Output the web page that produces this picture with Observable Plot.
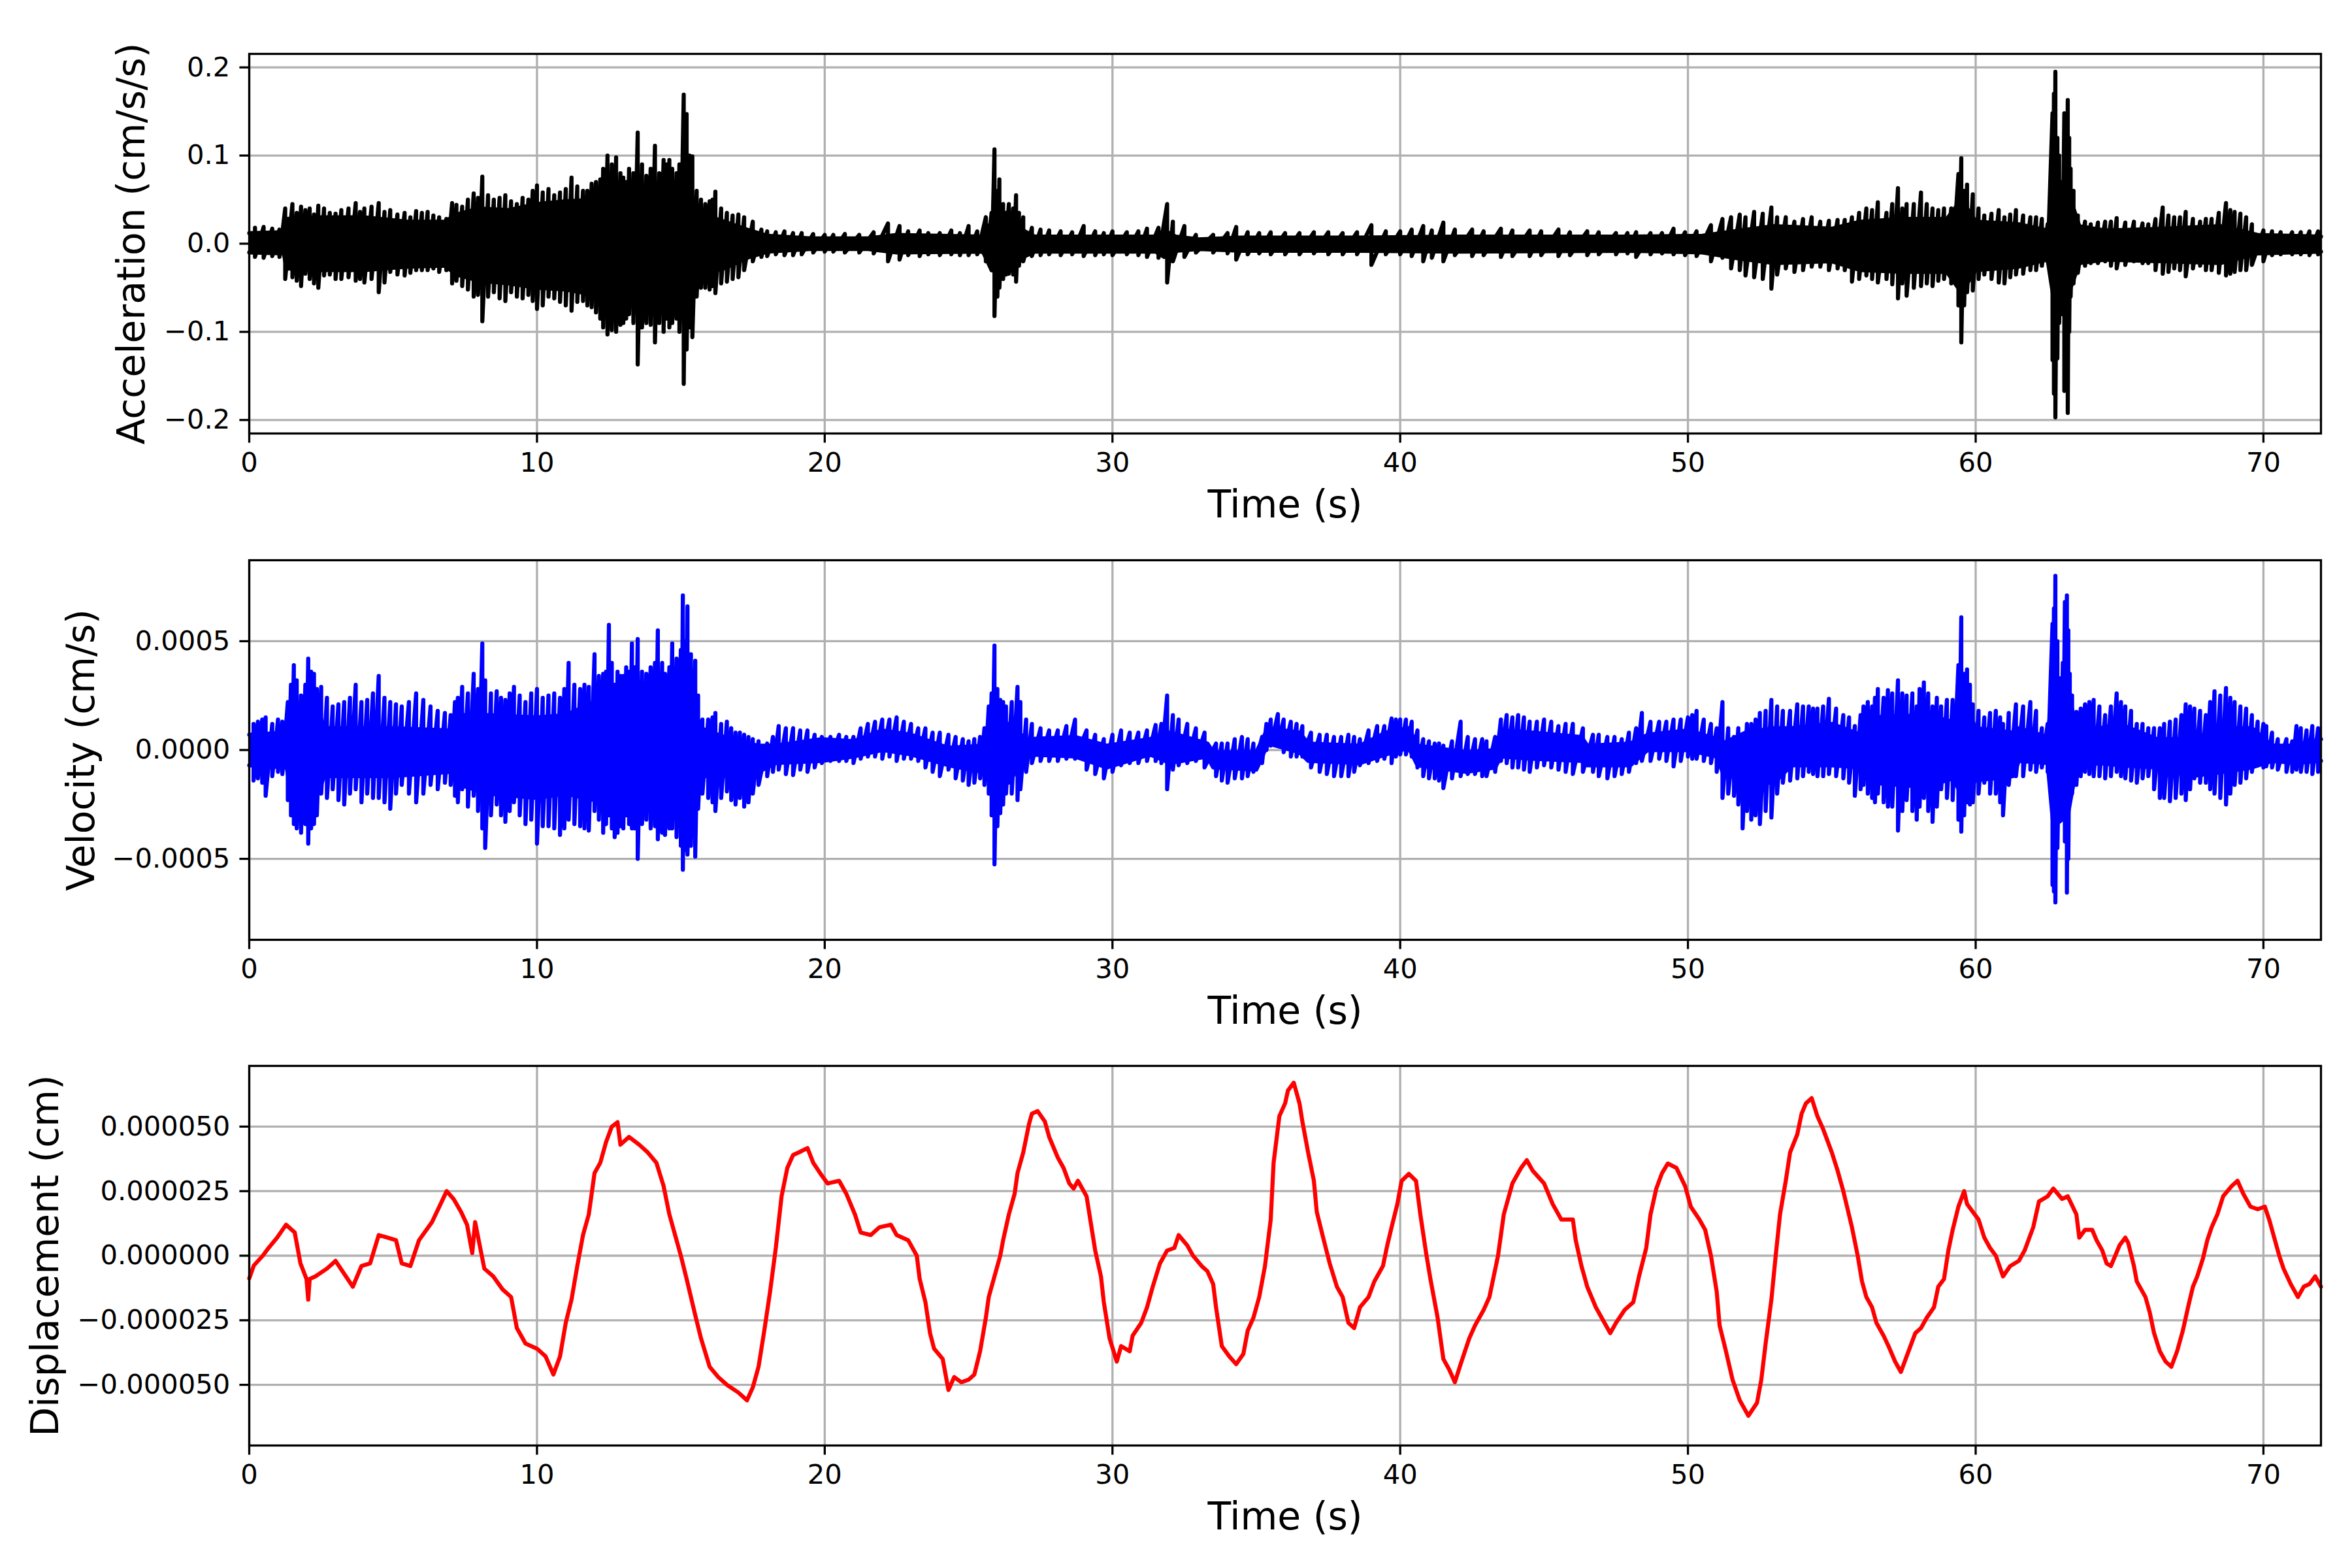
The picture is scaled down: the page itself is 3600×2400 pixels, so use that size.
<!DOCTYPE html>
<html>
<head>
<meta charset="utf-8">
<script src="https://cdn.jsdelivr.net/npm/d3@7"></script>
<script src="https://cdn.jsdelivr.net/npm/@observablehq/plot@0.6"></script>
<style>
  html, body { margin: 0; padding: 0; background: #fff; }
  #fig { position: relative; width: 3600px; height: 2400px; background: #fff; }
  .panel { position: absolute; left: 0; }
</style>
</head>
<body>
<div id="fig"></div>
<script>
// ---------------- DATA ----------------
const timeTicks = [0, 10, 20, 30, 40, 50, 60, 70];
const timeLabel = "Time (s)";

// Acceleration (cm/s/s): dense core band [t, high, low]
const accCore = [
  [0,0.012,-0.010],[1.2,0.013,-0.011],[1.3,0.028,-0.028],[2.5,0.030,-0.030],[4.0,0.030,-0.030],
  [5.5,0.025,-0.026],[6.8,0.025,-0.025],[7.2,0.033,-0.035],[8.0,0.040,-0.042],[9.0,0.038,-0.045],
  [10.0,0.045,-0.050],[11.0,0.048,-0.052],[12.0,0.050,-0.058],[12.6,0.070,-0.080],[13.2,0.060,-0.070],
  [14.0,0.065,-0.075],[14.8,0.070,-0.075],[15.3,0.060,-0.065],[15.6,0.035,-0.035],[16.5,0.025,-0.028],
  [17.3,0.016,-0.016],[18.0,0.009,-0.009],[19.5,0.006,-0.006],[21.5,0.006,-0.006],[22.5,0.010,-0.010],
  [25.5,0.008,-0.009],[25.8,0.025,-0.030],[26.3,0.035,-0.035],[26.9,0.015,-0.015],[27.3,0.008,-0.009],
  [31.5,0.008,-0.009],[31.8,0.015,-0.015],[32.2,0.008,-0.008],[33.0,0.005,-0.006],[34.5,0.007,-0.008],
  [38.5,0.007,-0.008],[42,0.008,-0.009],[48,0.008,-0.008],[50.5,0.009,-0.010],[51.8,0.015,-0.017],
  [53.0,0.020,-0.022],[55.0,0.017,-0.020],[56.0,0.025,-0.030],[57.5,0.028,-0.032],[59.0,0.028,-0.032],
  [59.5,0.050,-0.055],[60.0,0.025,-0.030],[61.5,0.022,-0.026],[62.5,0.015,-0.018],[62.7,0.060,-0.060],
  [63.3,0.050,-0.050],[63.6,0.020,-0.022],[64.5,0.015,-0.018],[66.5,0.017,-0.020],[68.5,0.020,-0.022],
  [69.8,0.010,-0.011],[72,0.008,-0.009]
];
// Acceleration: prominent swings [t, peak, trough]
const accSwings = [
  [1.25,0.040,-0.040],[1.5,0.045,-0.038],[1.8,0.042,-0.048],[2.1,0.040,-0.040],[2.4,0.043,-0.050],
  [2.8,0.035,-0.035],[3.2,0.038,-0.040],[3.7,0.046,-0.042],[4.0,0.040,-0.044],[4.5,0.046,-0.055],
  [4.9,0.038,-0.032],[5.4,0.035,-0.036],[5.8,0.037,-0.030],[6.2,0.036,-0.030],[6.6,0.030,-0.032],
  [7.05,0.046,-0.045],[7.4,0.042,-0.048],[7.8,0.057,-0.060],[8.1,0.076,-0.088],[8.5,0.050,-0.055],
  [8.9,0.055,-0.065],[9.3,0.045,-0.060],[9.7,0.050,-0.058],[10.0,0.066,-0.074],[10.4,0.062,-0.060],
  [10.8,0.058,-0.066],[11.2,0.075,-0.076],[11.6,0.060,-0.065],[11.9,0.068,-0.072],[12.2,0.073,-0.085],
  [12.45,0.100,-0.103],[12.75,0.098,-0.100],[13.0,0.075,-0.090],[13.2,0.085,-0.080],[13.5,0.126,-0.137],
  [13.8,0.077,-0.090],[14.1,0.111,-0.112],[14.4,0.095,-0.100],[14.6,0.095,-0.095],[14.85,0.080,-0.085],
  [15.1,0.169,-0.159],[15.2,0.147,-0.120],[15.4,0.099,-0.106],[15.7,0.050,-0.050],[16.0,0.048,-0.052],
  [16.2,0.059,-0.056],[16.6,0.035,-0.043],[17.0,0.033,-0.038],[17.5,0.025,-0.020],[18.0,0.014,-0.014],
  [18.6,0.014,-0.013],[19.2,0.012,-0.012],[20.3,0.010,-0.009],[21.2,0.010,-0.010],[22.2,0.023,-0.020],
  [22.6,0.020,-0.018],[23.3,0.015,-0.014],[24.0,0.012,-0.013],[25.0,0.020,-0.013],[25.6,0.030,-0.020],
  [25.9,0.107,-0.082],[26.07,0.073,-0.050],[26.4,0.045,-0.034],[26.65,0.055,-0.043],[26.9,0.030,-0.020],
  [27.5,0.016,-0.013],[28.2,0.014,-0.013],[29.0,0.020,-0.014],[30.0,0.014,-0.013],[31.2,0.017,-0.015],
  [31.9,0.045,-0.044],[32.5,0.020,-0.015],[34.3,0.019,-0.018],[35.5,0.013,-0.012],[36.5,0.012,-0.012],
  [37.5,0.013,-0.012],[39.0,0.021,-0.024],[40.0,0.014,-0.012],[40.8,0.020,-0.020],[41.5,0.024,-0.020],
  [42.5,0.016,-0.014],[43.5,0.017,-0.015],[44.5,0.015,-0.014],[45.5,0.016,-0.014],[46.5,0.014,-0.013],
  [47.5,0.012,-0.012],[48.2,0.013,-0.015],[49.5,0.017,-0.012],[50.8,0.021,-0.020],[51.2,0.028,-0.016],
  [51.8,0.033,-0.030],[52.3,0.036,-0.038],[52.9,0.041,-0.051],[53.4,0.030,-0.028],[54.0,0.028,-0.030],
  [54.6,0.025,-0.026],[55.2,0.027,-0.028],[55.7,0.030,-0.043],[56.2,0.040,-0.036],[56.6,0.047,-0.044],
  [56.9,0.035,-0.040],[57.3,0.063,-0.062],[57.6,0.045,-0.059],[58.1,0.058,-0.048],[58.5,0.040,-0.048],
  [58.9,0.040,-0.040],[59.4,0.079,-0.070],[59.5,0.097,-0.112],[59.7,0.067,-0.055],[59.9,0.056,-0.053],
  [60.3,0.032,-0.035],[60.8,0.038,-0.044],[61.0,0.030,-0.045],[61.4,0.038,-0.035],[61.9,0.030,-0.030],
  [62.3,0.028,-0.025],[62.67,0.148,-0.132],[62.77,0.195,-0.197],[62.9,0.100,-0.090],[63.08,0.148,-0.167],
  [63.2,0.163,-0.192],[63.3,0.085,-0.060],[63.55,0.032,-0.033],[64.0,0.022,-0.022],[64.5,0.025,-0.020],
  [64.9,0.029,-0.028],[65.5,0.025,-0.020],[66.0,0.022,-0.022],[66.5,0.041,-0.034],[66.9,0.030,-0.028],
  [67.3,0.036,-0.037],[67.8,0.025,-0.025],[68.2,0.028,-0.030],[68.7,0.046,-0.036],[69.0,0.036,-0.032],
  [69.4,0.030,-0.030],[70.0,0.015,-0.020],[70.6,0.013,-0.012],[71.3,0.013,-0.012],[71.9,0.014,-0.012]
];
// Acceleration: smaller swings between the prominent ones [t, peak, trough]
const accMinorSwings = [
  [0.2,0.018,-0.015],[0.5,0.019,-0.016],[0.8,0.017,-0.014],[1.05,0.016,-0.015],[1.65,0.035,-0.042],
  [1.95,0.038,-0.034],[2.25,0.033,-0.045],[2.6,0.040,-0.036],[3.0,0.034,-0.040],[3.45,0.040,-0.038],
  [3.85,0.036,-0.040],[4.25,0.042,-0.040],[4.7,0.036,-0.044],[5.15,0.033,-0.035],[5.6,0.030,-0.033],
  [6.0,0.035,-0.030],[6.4,0.032,-0.028],[6.85,0.028,-0.030],[7.2,0.044,-0.042],[7.6,0.050,-0.052],
  [7.95,0.052,-0.058],[8.3,0.055,-0.060],[8.7,0.052,-0.062],[9.1,0.048,-0.055],[9.5,0.052,-0.062],
  [9.85,0.060,-0.065],[10.2,0.058,-0.070],[10.6,0.055,-0.062],[11.0,0.062,-0.070],[11.4,0.065,-0.066],
  [11.75,0.060,-0.070],[12.05,0.070,-0.078],[12.3,0.085,-0.095],[12.6,0.090,-0.098],[12.9,0.080,-0.092],
  [13.1,0.070,-0.085],[13.35,0.080,-0.090],[13.65,0.090,-0.095],[13.95,0.085,-0.092],[14.25,0.080,-0.090],
  [14.5,0.090,-0.085],[14.7,0.085,-0.090],[14.95,0.090,-0.100],[15.3,0.100,-0.095],[15.55,0.060,-0.060],
  [15.85,0.045,-0.050],[16.1,0.050,-0.048],[16.4,0.040,-0.045],[16.8,0.032,-0.040],[17.2,0.030,-0.030],
  [17.8,0.016,-0.015],[18.3,0.013,-0.012],[18.9,0.012,-0.013],[19.6,0.011,-0.010],[20.0,0.010,-0.009],
  [20.7,0.011,-0.010],[21.7,0.013,-0.011],[22.9,0.014,-0.013],[23.6,0.012,-0.012],[24.4,0.015,-0.012],
  [24.7,0.012,-0.013],[25.3,0.014,-0.012],[25.8,0.035,-0.030],[26.0,0.060,-0.060],[26.2,0.045,-0.040],
  [26.55,0.040,-0.035],[26.75,0.035,-0.025],[27.2,0.018,-0.014],[27.8,0.015,-0.012],[28.6,0.013,-0.012],
  [29.4,0.014,-0.013],[29.7,0.012,-0.012],[30.5,0.013,-0.012],[30.9,0.014,-0.013],[31.6,0.018,-0.016],
  [32.1,0.025,-0.020],[32.9,0.010,-0.010],[33.5,0.010,-0.010],[34.0,0.012,-0.011],[34.7,0.013,-0.012],
  [35.1,0.012,-0.011],[36.0,0.012,-0.012],[37.0,0.013,-0.011],[38.0,0.012,-0.012],[38.5,0.013,-0.012],
  [39.5,0.014,-0.012],[40.4,0.016,-0.014],[41.1,0.015,-0.016],[41.9,0.016,-0.013],[42.9,0.014,-0.013],
  [43.9,0.015,-0.014],[44.9,0.014,-0.013],[45.9,0.013,-0.013],[46.9,0.013,-0.012],[47.9,0.012,-0.011],
  [48.7,0.012,-0.012],[49.1,0.012,-0.011],[49.9,0.013,-0.013],[50.3,0.014,-0.014],[51.5,0.030,-0.028],
  [52.0,0.030,-0.036],[52.6,0.034,-0.040],[53.1,0.030,-0.035],[53.7,0.025,-0.032],[54.3,0.030,-0.026],
  [54.9,0.026,-0.030],[55.45,0.027,-0.030],[55.95,0.035,-0.040],[56.4,0.038,-0.040],[57.1,0.045,-0.046],
  [57.45,0.040,-0.045],[57.85,0.045,-0.050],[58.3,0.045,-0.045],[58.7,0.038,-0.042],[59.15,0.040,-0.045],
  [59.6,0.060,-0.070],[60.1,0.040,-0.040],[60.55,0.034,-0.040],[61.2,0.033,-0.038],[61.65,0.032,-0.034],
  [62.1,0.030,-0.030],[62.5,0.022,-0.020],[62.72,0.170,-0.170],[62.84,0.120,-0.130],[63.0,0.070,-0.080],
  [63.14,0.130,-0.160],[63.25,0.120,-0.100],[63.4,0.060,-0.045],[63.8,0.025,-0.025],[64.25,0.024,-0.022],
  [64.7,0.025,-0.025],[65.2,0.024,-0.024],[65.8,0.023,-0.022],[66.25,0.028,-0.030],[66.7,0.032,-0.032],
  [67.1,0.030,-0.030],[67.55,0.028,-0.028],[68.0,0.028,-0.030],[68.45,0.035,-0.033],[68.85,0.038,-0.034],
  [69.2,0.034,-0.030],[69.6,0.022,-0.024],[70.3,0.014,-0.013],[71.0,0.013,-0.012],[71.6,0.014,-0.013]
];
const accTicks = [-0.2, -0.1, 0, 0.1, 0.2];
const accDomain = [-0.2153, 0.2153];
const accLabel = "Acceleration (cm/s/s)";

// Velocity (units of 1e-4 cm/s): core band [t, high, low]
const velCore = [
  [0,0.7,-0.7],[1.3,0.8,-0.8],[1.5,2.0,-2.3],[2.4,1.8,-2.0],[2.6,1.0,-1.2],[5.0,1.0,-1.2],[7.0,0.9,-1.0],
  [7.3,1.6,-1.6],[8.3,1.6,-2.0],[10.0,1.5,-2.2],[11.0,1.6,-2.0],[12.0,2.2,-2.3],[13.0,2.3,-2.6],
  [14.5,2.2,-2.4],[15.3,2.5,-2.8],[15.7,1.0,-1.2],[16.9,0.4,-1.2],[17.7,0.2,-1.0],[18.3,0.2,-0.6],
  [19.9,0.5,-0.5],[21.0,0.4,-0.3],[22.0,0.9,0.0],[23.0,0.7,-0.2],[24.3,0.1,-0.7],[25.5,0.2,-1.0],
  [25.8,1.2,-1.5],[26.4,1.2,-1.5],[27.0,0.5,-0.2],[28.7,0.6,-0.3],[29.8,0.2,-0.8],[31.3,0.5,-0.2],
  [32.0,0.8,-0.6],[33.3,0.3,-0.3],[33.5,-0.1,-0.8],[35.0,-0.1,-0.9],[35.4,1.0,0.3],[36.5,0.8,-0.1],
  [36.8,0.3,-0.5],[38.6,0.2,-0.6],[39.5,0.8,-0.2],[40.3,1.0,0.1],[40.6,0.2,-0.7],[42.3,-0.1,-1.0],
  [43.3,0.0,-0.8],[43.5,0.9,-0.3],[44.6,0.8,-0.4],[46.3,0.6,-0.5],[46.5,0.2,-0.7],[48.0,0.3,-0.7],
  [48.6,0.7,0.0],[50.0,0.9,0.0],[51.0,0.5,-0.3],[51.2,0.3,-1.0],[52.0,0.8,-1.5],[53.0,1.0,-1.5],
  [53.6,1.0,-0.7],[55.0,1.2,-0.7],[56.0,0.7,-0.8],[56.3,1.5,-1.5],[58.3,1.6,-1.7],[59.2,1.3,-1.3],
  [59.5,2.5,-2.0],[60.0,1.0,-1.4],[61.3,0.8,-1.2],[61.5,1.0,-0.5],[62.5,0.6,-0.6],[62.7,3.0,-3.5],
  [63.2,3.0,-3.0],[63.5,0.8,-0.8],[64.3,1.0,-0.6],[65.0,1.2,-0.7],[66.3,0.5,-0.8],[67.5,0.5,-1.2],
  [68.6,1.0,-1.0],[69.6,1.0,-0.8],[70.3,0.2,-0.5],[71.1,0.2,-0.6],[72.0,0.5,-0.5]
];
// Velocity (1e-4 cm/s): prominent swings [t, peak, trough]
const velSwings = [
  [0.3,1.3,-1.3],[0.57,1.5,-2.1],[1.0,1.4,-1.0],[1.34,2.2,-2.3],[1.55,3.9,-3.4],[1.8,2.5,-3.8],
  [2.05,4.2,-4.3],[2.25,3.5,-3.4],[2.5,2.9,-2.0],[2.9,2.0,-1.8],[3.3,2.2,-2.5],[3.7,3.0,-1.8],
  [4.1,2.3,-2.0],[4.5,3.4,-2.2],[4.9,2.2,-2.7],[5.3,2.0,-1.6],[5.8,2.6,-2.4],[6.3,2.0,-1.6],
  [6.8,1.7,-1.5],[7.15,2.2,-2.1],[7.4,2.9,-1.8],[7.8,3.5,-2.1],[8.1,4.9,-3.6],[8.2,3.2,-4.5],
  [8.6,2.7,-2.5],[8.9,2.3,-3.3],[9.2,2.9,-2.4],[9.6,2.2,-3.4],[10.0,2.8,-4.3],[10.4,2.5,-3.5],
  [10.8,2.4,-3.9],[11.1,4.0,-3.2],[11.5,2.8,-3.5],[11.8,2.9,-3.7],[12.0,4.4,-2.8],[12.3,3.5,-3.8],
  [12.5,5.75,-3.0],[12.7,3.0,-4.0],[12.9,3.4,-3.5],[13.1,3.8,-3.0],[13.3,4.9,-3.6],[13.5,5.1,-5.0],
  [13.8,3.5,-3.2],[14.2,5.5,-4.1],[14.45,3.5,-3.9],[14.7,4.9,-3.6],[15.07,7.1,-5.5],[15.23,6.6,-4.8],
  [15.5,4.1,-4.9],[15.6,2.5,-2.7],[15.95,1.4,-2.2],[16.2,1.7,-2.8],[16.6,1.3,-1.9],[16.9,0.8,-2.5],
  [17.2,0.7,-2.6],[17.5,0.5,-2.0],[18.0,0.3,-1.2],[18.4,1.1,-0.9],[18.9,1.0,-1.15],[19.4,0.9,-1.0],
  [19.9,0.6,-0.6],[20.5,0.7,-0.5],[21.0,0.6,-0.6],[21.5,1.2,-0.3],[22.0,1.4,-0.4],[22.5,1.5,-0.5],
  [23.0,1.2,-0.4],[23.5,1.0,-0.8],[24.0,0.8,-1.2],[24.3,0.7,-0.9],[24.8,0.5,-1.4],[25.0,0.4,-1.6],
  [25.4,0.6,-1.3],[25.7,2.0,-2.0],[25.9,4.8,-5.25],[26.1,2.3,-2.9],[26.3,2.0,-2.0],[26.7,2.9,-2.3],
  [26.8,2.2,-1.8],[27.2,1.2,-0.6],[27.8,0.9,-0.5],[28.7,1.4,-0.4],[29.1,0.9,-0.9],[29.7,0.5,-1.3],
  [30.3,0.9,-0.7],[30.9,0.8,-0.6],[31.5,1.15,-0.5],[31.9,2.5,-1.8],[32.3,1.4,-0.7],[32.9,1.0,-0.5],
  [33.6,0.3,-1.2],[34.0,0.3,-1.5],[34.5,0.6,-1.3],[34.9,0.3,-1.0],[35.5,1.4,0.2],[35.75,1.65,0.3],
  [36.2,1.3,-0.3],[36.6,1.1,-0.3],[37.2,0.7,-1.0],[37.7,0.6,-1.2],[38.2,0.7,-1.2],[38.6,0.5,-0.7],
  [39.2,1.1,-0.5],[39.7,1.45,-0.6],[40.0,1.4,-0.2],[40.4,1.3,-0.3],[40.8,0.5,-1.2],[41.2,0.3,-1.3],
  [41.5,0.2,-1.75],[42.1,1.3,-1.2],[42.6,0.5,-1.1],[43.0,0.4,-1.2],[43.7,1.6,-0.6],[44.1,1.6,-0.8],
  [44.5,1.3,-1.0],[45.0,1.4,-0.7],[45.5,1.1,-0.9],[46.0,1.2,-1.1],[46.7,0.7,-1.0],[47.2,0.6,-1.3],
  [47.7,0.5,-1.1],[48.4,1.7,-0.5],[49.0,1.3,-0.4],[49.5,1.4,-0.75],[50.0,1.5,-0.3],[50.3,1.8,-0.4],
  [50.8,1.2,-0.6],[51.2,2.2,-2.2],[51.6,0.6,-2.1],[51.9,0.6,-3.6],[52.2,1.2,-3.2],[52.5,1.7,-3.4],
  [52.9,2.3,-3.1],[53.3,1.8,-1.5],[53.8,2.1,-1.3],[54.2,2.0,-1.0],[54.5,1.9,-1.2],[54.9,2.35,-1.1],
  [55.4,1.6,-1.3],[55.8,1.1,-2.1],[56.1,2.0,-1.6],[56.4,2.0,-2.2],[56.6,2.8,-2.0],[56.95,2.75,-2.6],
  [57.3,3.2,-3.7],[57.6,2.5,-2.3],[57.95,2.0,-3.2],[58.2,3.1,-2.2],[58.5,2.0,-3.3],[58.8,2.0,-1.8],
  [59.2,2.3,-2.3],[59.4,3.9,-3.2],[59.5,6.1,-3.75],[59.7,3.7,-2.4],[59.9,2.1,-2.4],[60.3,1.5,-1.5],
  [60.7,1.8,-2.0],[60.95,1.2,-3.0],[61.4,2.1,-1.2],[61.9,2.2,-0.9],[62.3,1.0,-0.8],[62.67,5.8,-6.2],
  [62.77,8.0,-7.0],[62.95,3.3,-1.7],[63.1,6.8,-4.2],[63.17,7.1,-6.55],[63.27,3.5,-2.0],[63.5,1.75,-1.6],
  [63.8,2.1,-1.0],[64.1,2.3,-1.2],[64.5,1.6,-1.3],[64.9,2.6,-1.0],[65.2,2.0,-1.3],[65.6,1.2,-1.5],
  [66.0,1.0,-1.2],[66.4,1.0,-2.2],[66.75,1.3,-2.35],[67.3,2.1,-2.3],[67.6,1.9,-1.3],[68.0,1.6,-1.5],
  [68.3,2.7,-2.0],[68.7,2.85,-2.5],[69.0,2.2,-1.6],[69.4,1.9,-1.3],[69.8,1.3,-0.7],[70.1,1.1,-0.75],
  [70.5,0.5,-0.9],[71.0,0.4,-1.0],[71.15,1.1,-0.9],[71.7,1.1,-1.1]
];
// Velocity (1e-4 cm/s): smaller swings between the prominent ones [t, peak, trough]
const velMinorSwings = [
  [0.15,1.2,-1.4],[0.45,1.4,-1.5],[0.8,1.2,-1.2],[1.15,1.3,-1.1],[1.45,3.0,-3.0],[1.65,3.2,-3.6],
  [1.95,3.0,-3.4],[2.15,3.6,-3.6],[2.35,2.8,-3.0],[2.7,2.4,-2.2],[3.1,2.1,-2.3],[3.5,2.4,-2.0],
  [3.9,2.2,-2.4],[4.3,2.6,-2.2],[4.7,2.4,-2.4],[5.1,2.1,-2.0],[5.55,2.2,-2.0],[6.05,2.3,-2.0],
  [6.55,1.8,-1.8],[7.0,1.6,-1.6],[7.25,2.4,-2.4],[7.6,2.6,-2.6],[7.95,2.8,-2.8],[8.4,2.6,-3.0],
  [8.75,2.4,-3.0],[9.05,2.6,-2.8],[9.4,2.5,-3.0],[9.8,2.6,-3.2],[10.2,2.4,-3.5],[10.6,2.6,-3.6],
  [10.95,2.8,-3.6],[11.3,3.0,-3.4],[11.65,3.0,-3.6],[12.15,3.4,-3.2],[12.4,3.6,-3.4],[12.6,4.0,-3.6],
  [12.8,3.6,-3.8],[13.0,3.4,-3.6],[13.2,3.6,-3.4],[13.4,3.8,-3.6],[13.65,3.6,-3.4],[13.95,3.8,-3.6],
  [14.1,4.0,-3.5],[14.35,4.0,-3.8],[14.6,3.8,-3.6],[14.85,4.2,-4.0],[15.0,4.6,-4.4],[15.15,5.0,-4.6],
  [15.35,4.4,-4.4],[15.75,1.4,-2.0],[16.1,1.5,-2.4],[16.4,1.2,-2.2],[16.75,1.0,-2.3],[17.05,0.8,-2.2],
  [17.35,0.6,-2.4],[17.7,0.4,-1.6],[18.2,0.6,-1.0],[18.65,1.0,-1.1],[19.15,0.9,-0.9],[19.65,0.7,-0.8],
  [20.2,0.6,-0.5],[20.75,0.6,-0.5],[21.25,1.0,-0.4],[21.75,1.3,-0.3],[22.25,1.4,-0.3],[22.75,1.3,-0.4],
  [23.25,1.0,-0.5],[23.75,0.8,-1.0],[24.55,0.6,-1.3],[25.2,0.5,-1.5],[25.55,1.0,-1.6],[25.8,2.6,-3.0],
  [26.0,2.8,-3.5],[26.2,2.2,-2.5],[26.5,2.2,-2.0],[27.0,1.4,-1.0],[27.5,1.0,-0.5],[28.1,0.9,-0.5],
  [28.4,1.1,-0.4],[29.4,0.7,-1.1],[30.0,0.7,-1.0],[30.6,0.8,-0.6],[31.2,0.9,-0.5],[31.7,1.2,-0.6],
  [32.1,1.6,-0.9],[32.6,1.2,-0.6],[33.2,0.8,-0.8],[33.8,0.3,-1.4],[34.25,0.5,-1.3],[34.7,0.5,-1.2],
  [35.2,0.6,-0.6],[35.35,1.2,0.0],[35.95,1.4,-0.1],[36.4,1.2,-0.3],[36.9,0.8,-0.8],[37.45,0.7,-1.1],
  [37.95,0.6,-1.2],[38.4,0.6,-1.0],[38.9,0.9,-0.6],[39.45,1.1,-0.4],[39.85,1.4,-0.3],[40.2,1.4,-0.2],
  [40.6,0.9,-0.8],[41.0,0.4,-1.3],[41.35,0.3,-1.4],[41.8,0.4,-1.3],[42.35,0.6,-1.1],[42.85,0.5,-1.2],
  [43.3,0.6,-1.0],[43.5,1.4,-0.5],[43.9,1.5,-0.8],[44.3,1.5,-0.9],[44.75,1.3,-0.8],[45.25,1.3,-0.8],
  [45.75,1.2,-1.0],[46.35,1.0,-1.0],[46.9,0.7,-1.2],[47.45,0.6,-1.2],[47.95,0.8,-1.0],[48.2,1.0,-0.6],
  [48.7,1.3,-0.5],[49.25,1.3,-0.5],[49.75,1.4,-0.5],[50.15,1.6,-0.4],[50.55,1.4,-0.5],[51.0,1.0,-1.0],
  [51.4,1.0,-2.0],[51.75,1.0,-2.5],[52.05,1.2,-2.8],[52.35,1.4,-3.0],[52.7,1.8,-2.8],[53.1,2.0,-2.0],
  [53.55,1.8,-1.4],[54.0,2.0,-1.2],[54.35,1.9,-1.1],[54.7,2.0,-1.2],[55.15,1.9,-1.2],[55.6,1.5,-1.5],
  [56.0,1.6,-1.8],[56.25,2.2,-2.0],[56.5,2.4,-2.4],[56.8,2.4,-2.4],[57.1,2.6,-2.6],[57.45,2.6,-2.8],
  [57.8,2.6,-2.8],[58.05,2.8,-2.6],[58.35,2.6,-2.8],[58.65,2.4,-2.6],[59.0,2.3,-2.2],[59.6,3.5,-3.0],
  [59.8,3.0,-2.5],[60.1,1.8,-2.0],[60.5,1.7,-2.0],[60.85,1.5,-2.4],[61.15,1.7,-1.6],[61.65,2.0,-1.2],
  [62.1,1.8,-1.0],[62.5,1.2,-1.0],[62.72,6.5,-6.5],[62.84,5.0,-4.5],[63.03,4.0,-3.0],[63.22,5.5,-5.0],
  [63.35,2.5,-2.0],[63.65,1.9,-1.2],[63.95,2.2,-1.1],[64.3,2.0,-1.2],[64.7,2.0,-1.2],[65.05,2.2,-1.2],
  [65.4,1.8,-1.4],[65.8,1.2,-1.3],[66.2,1.0,-1.8],[66.55,1.2,-2.2],[66.95,1.4,-2.2],[67.15,1.6,-2.0],
  [67.45,2.0,-1.8],[67.8,1.8,-1.5],[68.15,2.2,-1.8],[68.5,2.5,-2.2],[68.85,2.4,-2.0],[69.2,2.0,-1.5],
  [69.6,1.6,-1.0],[70.0,1.2,-0.8],[70.3,0.8,-0.8],[70.8,0.5,-1.0],[71.3,1.0,-1.0],[71.5,0.9,-1.0],
  [71.9,1.0,-1.0]
];
const velUnit = 1e-4;
const velTicks = [-0.0005, 0, 0.0005];
const velDomain = [-0.000872, 0.000872];
const velLabel = "Velocity (cm/s)";

// Displacement (units of 1e-6 cm): [t, value]
const dispTrace = [
  [0,-8.8],[0.16,-3.8],[0.47,0],[0.67,3],[0.97,7],[1.28,12],[1.58,9],[1.78,-3],[1.99,-9],[2.05,-17],[2.1,-9],
  [2.3,-8],[2.7,-5],[3.0,-2],[3.3,-7],[3.6,-12],[3.9,-4],[4.2,-3],[4.5,8],[4.8,7],[5.1,6],[5.3,-3],[5.6,-4],
  [5.9,6],[6.35,13],[6.65,20],[6.86,25],[7.1,22],[7.36,17],[7.57,12],[7.75,1],[7.85,13],[8.17,-5],[8.48,-8],
  [8.8,-13],[9.1,-16],[9.3,-28],[9.6,-34],[10.0,-36],[10.3,-39],[10.57,-46],[10.8,-39],[11.0,-26],[11.2,-17],
  [11.4,-4],[11.6,8],[11.8,16],[12.0,32],[12.2,36],[12.4,44],[12.6,50],[12.8,51.7],[12.9,43],[13.2,46],
  [13.55,43],[13.85,40],[14.15,36],[14.4,27],[14.6,16],[14.8,8],[15.0,0],[15.2,-9],[15.5,-23],[15.7,-32],
  [16.0,-43],[16.3,-47],[16.6,-50],[17.0,-53],[17.3,-56],[17.5,-51],[17.7,-43],[17.9,-29],[18.1,-14],[18.3,3],
  [18.5,23],[18.7,34],[18.9,39],[19.1,40],[19.4,41.7],[19.6,36],[19.9,31],[20.1,28],[20.5,29],[20.75,24],
  [21.05,16],[21.25,9],[21.6,8],[21.9,11],[22.3,12],[22.5,8],[22.9,6],[23.2,0],[23.3,-9],[23.5,-18],
  [23.66,-30],[23.8,-36],[24.1,-40],[24.2,-46],[24.3,-52],[24.5,-47],[24.75,-49],[25.0,-48],[25.2,-46],
  [25.4,-37],[25.6,-24],[25.7,-16],[25.9,-8],[26.1,0],[26.2,6],[26.4,16],[26.6,24],[26.7,32],[26.9,40],
  [27.1,51],[27.2,55],[27.4,56],[27.65,52],[27.8,46],[28.1,38],[28.3,34],[28.5,28],[28.65,26],[28.8,29],
  [29.1,23],[29.2,16],[29.4,2],[29.6,-8],[29.7,-18],[29.9,-32],[30.15,-41],[30.3,-35],[30.6,-37],[30.7,-31],
  [31.0,-26],[31.2,-20],[31.4,-12],[31.65,-3],[31.9,2],[32.15,3],[32.3,8],[32.6,4],[32.8,0],[33.1,-4],
  [33.3,-6],[33.5,-11],[33.6,-20],[33.8,-35],[34.06,-39],[34.3,-42],[34.55,-38],[34.7,-29],[34.9,-24],
  [35.1,-16],[35.3,-4],[35.5,14],[35.6,36],[35.8,54],[36.0,59],[36.1,64],[36.3,67],[36.5,59],[36.6,52],
  [36.8,40],[37.0,29],[37.1,17],[37.3,8],[37.55,-3],[37.8,-12],[38.0,-16],[38.2,-26],[38.4,-28],[38.6,-20],
  [38.9,-16],[39.1,-10],[39.4,-4],[39.55,4],[39.7,11],[39.9,20],[40.05,29],[40.3,31.7],[40.55,29],[40.7,16],
  [40.9,1],[41.05,-9],[41.3,-24],[41.5,-40],[41.7,-44],[41.9,-49],[42.1,-42],[42.4,-32],[42.6,-27],[42.9,-21],
  [43.1,-16],[43.4,0],[43.6,16],[43.9,28],[44.2,34],[44.4,37],[44.6,33],[45.0,28],[45.3,20],[45.6,14],
  [46.0,14],[46.1,6],[46.3,-4],[46.5,-12],[46.8,-20],[47.0,-24],[47.3,-30],[47.5,-26],[47.8,-21],[48.1,-18],
  [48.3,-8],[48.55,3],[48.7,16],[48.9,26],[49.1,32],[49.3,35.7],[49.6,34],[49.9,27],[50.1,19],[50.4,14],
  [50.6,10],[50.8,0],[51.0,-14],[51.1,-27],[51.3,-36],[51.55,-48],[51.8,-56],[52.1,-62],[52.4,-57],
  [52.55,-48],[52.7,-34],[52.9,-17],[53.05,0],[53.2,16],[53.4,29],[53.55,40],[53.8,47],[53.95,55],[54.1,59],
  [54.3,61],[54.5,54],[54.7,49],[55.0,40],[55.2,33],[55.4,25],[55.55,18],[55.7,11],[55.9,0],[56.05,-10],
  [56.2,-16],[56.4,-20],[56.55,-26],[56.8,-31],[56.97,-35],[57.2,-41],[57.4,-45],[57.6,-39],[57.9,-30],
  [58.1,-28],[58.3,-24],[58.55,-20],[58.7,-12],[58.9,-9],[59.05,2],[59.2,10],[59.4,19],[59.6,25],[59.7,20],
  [59.9,17],[60.1,14],[60.3,7],[60.5,3],[60.7,0],[60.95,-8],[61.2,-4],[61.5,-2],[61.7,2],[62.0,11],[62.2,21],
  [62.5,23],[62.7,26],[63.0,22],[63.2,23],[63.5,16],[63.6,7],[63.8,10],[64.05,10],[64.2,6],[64.4,2],
  [64.55,-3],[64.7,-4],[65.0,4],[65.2,7],[65.3,5],[65.5,-4],[65.6,-10],[65.9,-16],[66.05,-22],[66.2,-30],
  [66.4,-37],[66.6,-41],[66.8,-43],[67.0,-37],[67.2,-29],[67.4,-19],[67.55,-12],[67.7,-8],[67.9,-1],
  [68.05,6],[68.2,11],[68.4,16],[68.6,23],[68.9,27],[69.1,29],[69.3,24],[69.55,19],[69.8,18],[70.05,19],
  [70.2,14],[70.4,6],[70.55,0],[70.7,-5],[70.95,-11],[71.2,-16],[71.4,-12],[71.6,-11],[71.8,-8],[72.0,-12]
];
const dispUnit = 1e-6;
const dispTicks = [-0.00005, -0.000025, 0, 0.000025, 0.00005];
const dispDomain = [-0.0000735, 0.0000735];
const dispLabel = "Displacement (cm)";

// ---------------- RENDER ----------------
const MINUS = "\u2212";
const fmt = (dec) => (d) => (d < 0 ? MINUS : "") + Math.abs(d).toFixed(dec);

const GRID = "#b0b0b0";
const LW = 6.25, AXW = 3.3, TICK = 14.6, TICKFONT = 41.7, LABELFONT = 58.3;

function panel({top, yDomain, yTicks, yFormat, yLabel, yLabelDx, marks}) {
  const chart = Plot.plot({
    width: 3600,
    height: 850,
    marginTop: 82,
    marginBottom: 187,
    marginLeft: 381,
    marginRight: 48,
    style: {fontFamily: "'DejaVu Sans', sans-serif", background: "transparent", overflow: "visible"},
    x: {domain: [0, 72]},
    y: {domain: yDomain},
    marks: [
      Plot.gridX(timeTicks, {stroke: GRID, strokeOpacity: 1, strokeWidth: AXW}),
      Plot.gridY(yTicks, {stroke: GRID, strokeOpacity: 1, strokeWidth: AXW}),
      ...marks,
      Plot.frame({stroke: "black", strokeWidth: AXW}),
      Plot.axisX(timeTicks, {tickSize: TICK, tickPadding: TICK, fontSize: TICKFONT, strokeWidth: AXW, label: null, tickFormat: d => String(d)}),
      Plot.axisY(yTicks, {tickSize: TICK, tickPadding: TICK, fontSize: TICKFONT, strokeWidth: AXW, label: null, tickFormat: yFormat}),
      Plot.text([timeLabel], {frameAnchor: "bottom", dy: 110, text: d => d, fontSize: LABELFONT, textAnchor: "middle", lineAnchor: "middle", fill: "black"}),
      Plot.text([yLabel], {frameAnchor: "left", dx: yLabelDx, rotate: -90, text: d => d, fontSize: LABELFONT, textAnchor: "middle", lineAnchor: "middle", fill: "black"})
    ]
  });
  const div = document.createElement("div");
  div.className = "panel";
  div.style.top = top + "px";
  div.appendChild(chart);
  document.getElementById("fig").appendChild(div);
}

// A trace = solid core band + a zig-zag line through every read swing (peak then trough).
function traceMarks(core, swingLists, unit, color) {
  const coreRows = core.map(([t, hi, lo]) => ({t, hi: hi * unit, lo: lo * unit}));
  const swings = swingLists.flat().slice().sort((a, b) => a[0] - b[0]);
  const zig = [];
  swings.forEach(([t, hi, lo]) => {
    zig.push({t, v: hi * unit});
    zig.push({t, v: lo * unit});
  });
  return [
    Plot.areaY(coreRows, {x: "t", y1: "lo", y2: "hi", fill: color}),
    Plot.line(coreRows, {x: "t", y: "hi", stroke: color, strokeWidth: LW}),
    Plot.line(coreRows, {x: "t", y: "lo", stroke: color, strokeWidth: LW}),
    Plot.line(zig, {x: "t", y: "v", stroke: color, strokeWidth: LW, strokeLinejoin: "round", strokeLinecap: "round"})
  ];
}

panel({
  top: 0, yDomain: accDomain, yTicks: accTicks, yFormat: fmt(1),
  yLabel: accLabel, yLabelDx: -179, marks: traceMarks(accCore, [accSwings, accMinorSwings], 1, "black")
});
panel({
  top: 775, yDomain: velDomain, yTicks: velTicks, yFormat: fmt(4),
  yLabel: velLabel, yLabelDx: -256, marks: traceMarks(velCore, [velSwings, velMinorSwings], velUnit, "blue")
});
const dispRows = dispTrace.map(([t, v]) => ({t, v: v * dispUnit}));
panel({
  top: 1549, yDomain: dispDomain, yTicks: dispTicks, yFormat: fmt(6),
  yLabel: dispLabel, yLabelDx: -311,
  marks: [Plot.line(dispRows, {x: "t", y: "v", stroke: "red", strokeWidth: LW, strokeLinejoin: "round"})]
});
</script>
</body>
</html>
